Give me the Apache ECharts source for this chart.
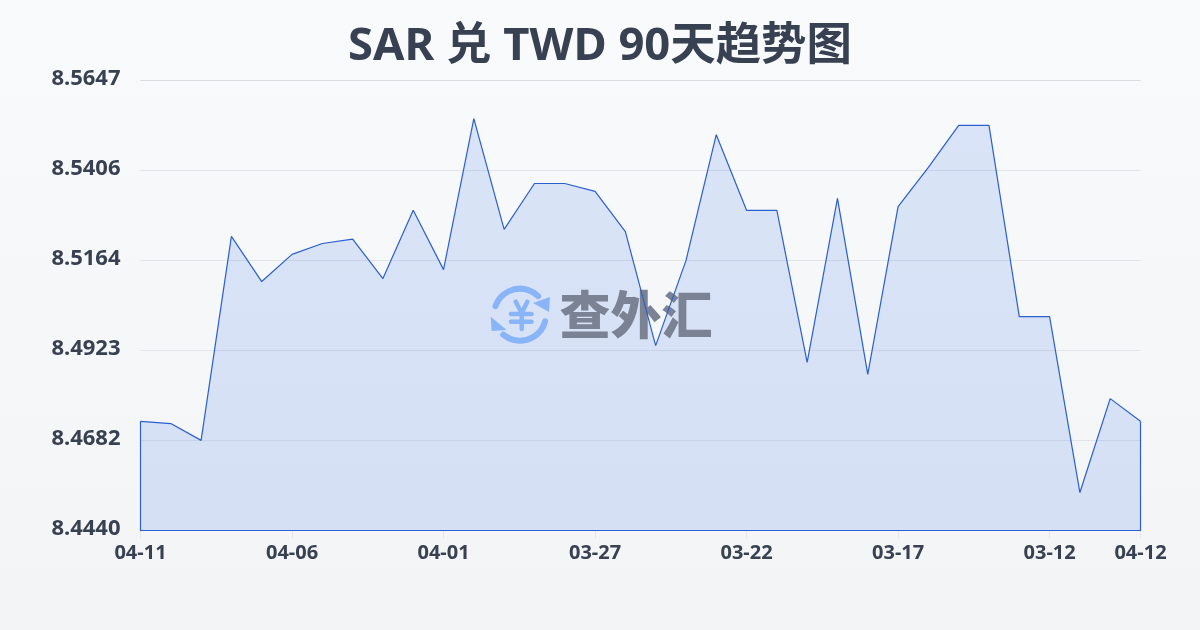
<!DOCTYPE html>
<html><head><meta charset="utf-8">
<style>html,body{margin:0;padding:0;width:1200px;height:630px;overflow:hidden}#c{width:1200px;height:630px}</style>
<script src="https://cdn.jsdelivr.net/npm/echarts@6/dist/echarts.min.js"></script>
</head><body><div id="c"></div>
<script>
const categories = ['04-11','04-10','04-09','04-08','04-07','04-06','04-05','04-04','04-03','04-02','04-01','03-31','03-30','03-29','03-28','03-27','03-26','03-25','03-24','03-23','03-22','03-21','03-20','03-19','03-18','03-17','03-16','03-15','03-14','03-13','03-12','03-11','03-10','04-12'];
const rates = [8.4733,8.4727,8.4682,8.5229,8.5108,8.5181,8.5210,8.5222,8.5116,8.5299,8.5140,8.5545,8.5248,8.5371,8.5371,8.5350,8.5242,8.4936,8.5164,8.5502,8.5299,8.5299,8.4891,8.5331,8.4859,8.5309,8.5414,8.5527,8.5527,8.5014,8.5014,8.4542,8.4794,8.4733];
const yMin = 8.44402, yMax = 8.56473;
const titleText = 'SAR 兑 TWD 90天趋势图';
const watermarkText = '查外汇';

const ink = '#374151', blue = '#2a5fcf', fillBlue = '#2563eb', logo = '#8ab4f8';
const font = '"Noto Sans","Noto Sans CJK SC",sans-serif';
const last = categories.length - 1;
const outline = [[categories[0], rates[0]], [categories[0], yMin], [categories[last], yMin], [categories[last], rates[last]]];
const lineOf = (points) => ({type:'polyline',z:3,shape:{points},style:{stroke:logo,lineWidth:4.5,fill:null,lineCap:'round',lineJoin:'round'}});

const chart = echarts.init(document.getElementById('c'), null, {renderer:'canvas'});
chart.setOption({
  animation:false,
  backgroundColor:new echarts.graphic.LinearGradient(0,0,0,1,[{offset:0,color:'#f9fafb'},{offset:1,color:'#f3f4f6'}]),
  title:{text:titleText,left:'center',top:19,textStyle:{fontFamily:font,fontSize:45.4,fontWeight:'bold',color:ink}},
  grid:{left:140.5,right:59.5,top:80.5,bottom:99.5},
  xAxis:{type:'category',boundaryGap:false,data:categories,
    axisLine:{show:false},
    axisTick:{show:true,length:8,lineStyle:{color:'#e5e7eb'},interval:(i)=>i%5===0||i===last},
    axisLabel:{interval:(i)=>i%5===0||i===last,fontFamily:font,fontSize:20,fontWeight:'bold',color:ink,margin:13,hideOverlap:false},
    splitLine:{show:false}},
  yAxis:{type:'value',min:yMin,max:yMax,interval:(yMax-yMin)/5,
    axisLine:{show:false},axisTick:{show:false},
    axisLabel:{formatter:(v)=>v.toFixed(4),fontFamily:font,fontSize:22,fontWeight:'bold',color:ink,margin:20,verticalAlign:'bottom',lineHeight:3},
    splitLine:{show:true,lineStyle:{color:'#d1d5db',opacity:0.55,width:1}}},
  graphic:{elements:[
    {type:'group',silent:true,children:[
      {type:'arc',z:3,shape:{cx:520,cy:314.7,r:26,startAngle:-2.81,endAngle:-0.8},style:{stroke:logo,lineWidth:6,fill:null,lineCap:'round'}},
      {type:'arc',z:3,shape:{cx:520,cy:314.7,r:26,startAngle:0.26,endAngle:2.27},style:{stroke:logo,lineWidth:6,fill:null,lineCap:'round'}},
      {type:'polygon',z:3,shape:{points:[[533,303],[550,297],[549,312]]},style:{fill:logo}},
      {type:'polygon',z:3,shape:{points:[[490.7,316.7],[506.7,330],[491.7,331]]},style:{fill:logo}},
      lineOf([[515.7,301.7],[521.7,313],[527.3,301.7]]),
      lineOf([[511,314],[531.5,314]]),
      lineOf([[511,321.7],[531.5,321.7]]),
      lineOf([[521.7,313],[521.7,329]]),
      {type:'text',z:3,style:{text:watermarkText,x:636,y:315,align:'center',verticalAlign:'middle',fontFamily:'"Noto Sans CJK SC",sans-serif',fontSize:51,fontWeight:900,fill:'#7b8294'}}
    ]}
  ]},
  series:[
    {type:'line',z:2,data:rates,symbol:'none',smooth:false,
      lineStyle:{width:0},
      areaStyle:{color:fillBlue,opacity:0.14,origin:'start'}},
    {type:'line',z:4,data:rates,symbol:'none',smooth:false,lineStyle:{color:blue,width:1.2}},
    {type:'line',z:4,data:outline,symbol:'none',lineStyle:{color:blue,width:1.2}}
  ]
});
</script></body></html>
